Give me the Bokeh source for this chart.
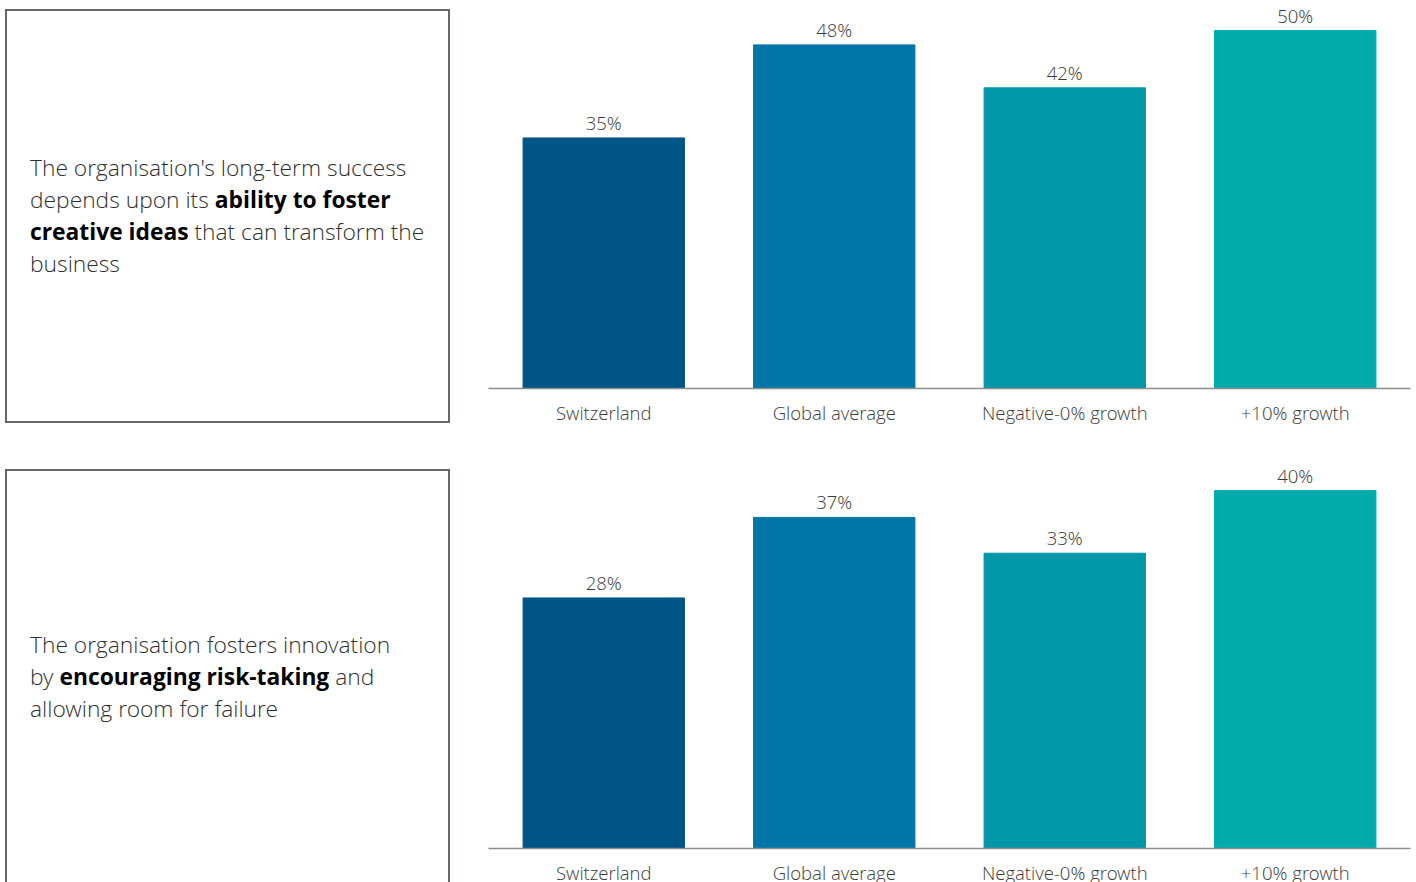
from bokeh.plotting import figure
from bokeh.models import ColumnDataSource, FactorRange, Range1d, Div
from bokeh.layouts import row, column
from bokeh.core.properties import value
from bokeh.embed import file_html
from bokeh.resources import INLINE

categories = ["Switzerland", "Global average", "Negative-0% growth", "+10% growth"]
bar_colors = ["#005587", "#0076A8", "#0097A9", "#00ABAB"]
creative_values = [35, 48, 42, 50]
risk_values = [28, 37, 33, 40]

creative_lines = ["The organisation's long-term success",
                  "depends upon its <b>ability to foster</b>",
                  "<b>creative ideas</b> that can transform the",
                  "business"]
risk_lines = ["The organisation fosters innovation",
              "by <b>encouraging risk-taking</b> and",
              "allowing room for failure"]

FONT = "'Open Sans Light', 'Open Sans'"
TEXT_COLOR = "#3a3a3a"


def make_box(lines, height, bottom_border=True):
    border_bottom = "" if bottom_border else "border-bottom:none;"
    body = "<br>".join(lines).replace("<b>", "<b style='color:#000;font-weight:700;font-family:\"Open Sans\"'>")
    inner = (
        f'<div style="width:445px;height:{height}px;box-sizing:border-box;'
        f'border:2px solid #63666a;{border_bottom}display:flex;align-items:center;'
        f'padding:0 4px 0 23px;font-family:\'Open Sans Light\',\'Open Sans\';font-weight:300;font-size:22.8px;'
        f'line-height:32px;color:#2e2e2e;white-space:nowrap;">'
        f'<div>{body}</div></div>'
    )
    return Div(text=inner, width=445, height=height, margin=(9, 0, 0, 5))


def make_chart(values, height, bottom):
    src = ColumnDataSource(dict(
        cat=categories,
        val=values,
        color=bar_colors,
        label=[f"{v}%" for v in values],
    ))
    p = figure(x_range=FactorRange(*categories),
               y_range=Range1d(0, max(values) * 1.084),
               width=966, height=height,
               output_backend="svg", toolbar_location=None,
               min_border_left=38, min_border_right=6,
               min_border_top=0, min_border_bottom=bottom)
    p.vbar(x="cat", top="val", width=0.7, color="color", source=src)
    p.text(x="cat", y="val", text="label", source=src,
           text_align="center", text_baseline="bottom", y_offset=-3,
           text_font=value(FONT), text_font_size="18.5px", text_color=TEXT_COLOR)
    p.yaxis.visible = False
    p.xgrid.visible = False
    p.ygrid.visible = False
    p.outline_line_color = None
    p.xaxis.axis_line_color = "#8c8c8c"
    p.xaxis.axis_line_width = 1.5
    p.xaxis.major_tick_line_color = None
    p.xaxis.minor_tick_line_color = None
    p.xaxis.major_label_standoff = 5
    p.xaxis.major_label_text_font = FONT
    p.xaxis.major_label_text_font_size = "18.5px"
    p.xaxis.major_label_text_color = TEXT_COLOR
    p.background_fill_color = "white"
    p.border_fill_color = "white"
    return p


top = row(make_box(creative_lines, 414), make_chart(creative_values, 460, 72))
bottom = row(make_box(risk_lines, 413, bottom_border=False), make_chart(risk_values, 460, 72))
layout = column(top, bottom, width=1416, height=882, styles={"overflow": "hidden"})

open("out.html", "w").write(file_html(layout, INLINE))
